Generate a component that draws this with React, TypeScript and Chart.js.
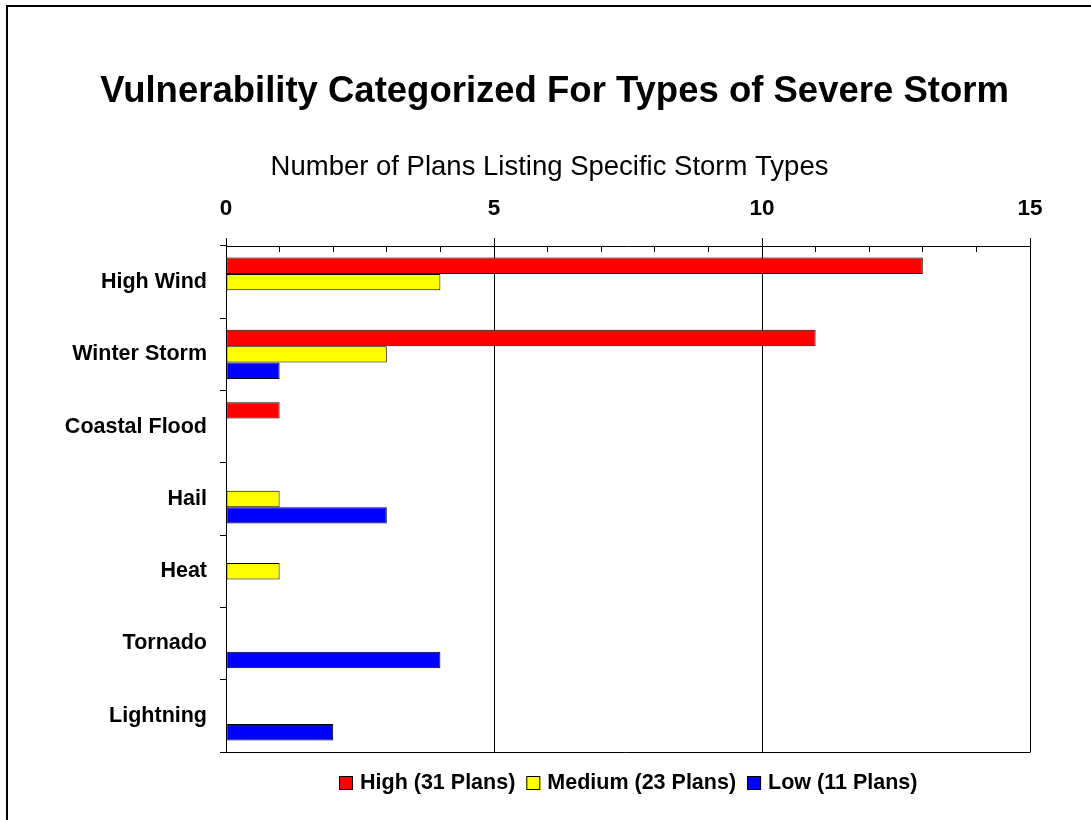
import { useEffect, useRef } from "react";
import { Chart, registerables } from "chart.js";

Chart.register(...registerables);

const FONT = "'Liberation Sans', Arial, Helvetica, sans-serif";

const chartTitle = "Vulnerability Categorized For Types of Severe Storm";
const axisTitle = "Number of Plans Listing Specific Storm Types";

const categories = [
  "High Wind",
  "Winter Storm",
  "Coastal Flood",
  "Hail",
  "Heat",
  "Tornado",
  "Lightning",
];

const highPlans = [13, 11, 1, null, null, null, null];
const mediumPlans = [4, 3, null, 1, 1, null, null];
const lowPlans = [null, 1, null, 3, null, 4, 2];

const seriesLabels = ["High (31 Plans)", "Medium (23 Plans)", "Low (11 Plans)"];
const seriesColors = ["#FF0000", "#FFFF00", "#0000FF"];

const xMin = 0;
const xMax = 15;
const xMajorStep = 5;

const CANVAS_W = 1083;
const CANVAS_H = 813;

function align(px: number, width = 1) {
  const half = width / 2;
  return Math.round(px - half) + half;
}

// Headings, inward minor ticks on the top axis, the plot's bottom edge and the legend row.
const plotDecor = {
  id: "plotDecor",
  afterDraw(chart: any) {
    const { ctx, chartArea } = chart;
    const xs = chart.scales.x;
    ctx.save();

    // headings
    ctx.fillStyle = "#000";
    ctx.textAlign = "center";
    ctx.textBaseline = "alphabetic";
    ctx.font = `bold 36.5px ${FONT}`;
    ctx.fillText(chartTitle, chart.width / 2 + 5, 94.7);
    ctx.font = `27.5px ${FONT}`;
    ctx.fillText(axisTitle, chart.width / 2, 168);

    ctx.strokeStyle = "#000";
    ctx.lineWidth = 1;

    // minor ticks
    ctx.beginPath();
    for (let v = xMin; v <= xMax; v++) {
      if (v % xMajorStep === 0) continue;
      const px = align(xs.getPixelForValue(v));
      ctx.moveTo(px, chartArea.top);
      ctx.lineTo(px, chartArea.top + 6);
    }
    ctx.stroke();

    // bottom edge of the plot
    const by = align(chartArea.bottom);
    ctx.beginPath();
    ctx.moveTo(chartArea.left - 6, by);
    ctx.lineTo(align(chartArea.right), by);
    ctx.stroke();

    // legend
    ctx.font = `bold 21.5px ${FONT}`;
    ctx.textBaseline = "middle";
    ctx.textAlign = "left";
    const box = 14;
    const gapText = 7;
    const gapItem = 11;
    const items = chart.data.datasets.map((ds: any) => ({
      text: ds.label as string,
      color: ds.backgroundColor as string,
      w: ctx.measureText(ds.label).width,
    }));
    const total =
      items.reduce((s: number, it: any) => s + box + gapText + it.w, 0) +
      gapItem * (items.length - 1);
    let x = Math.round((chartArea.left + chartArea.right) / 2 - total / 2);
    const cy = chartArea.bottom + 30.5;
    items.forEach((it: any) => {
      const top = Math.round(cy - box / 2);
      ctx.fillStyle = it.color;
      ctx.fillRect(x, top, box, box);
      ctx.strokeStyle = "#000";
      ctx.strokeRect(x + 0.5, top + 0.5, box - 1, box - 1);
      ctx.fillStyle = "#000";
      ctx.fillText(it.text, x + box + gapText, cy + 1);
      x += box + gapText + it.w + gapItem;
    });
    ctx.restore();
  },
};

export default function App() {
  const canvasRef = useRef<HTMLCanvasElement | null>(null);

  useEffect(() => {
    const canvas = canvasRef.current;
    if (!canvas) return;
    const values = [highPlans, mediumPlans, lowPlans];
    const chart = new Chart(canvas, {
      type: "bar",
      data: {
        labels: categories,
        datasets: values.map((data, i) => ({
          label: seriesLabels[i],
          data,
          backgroundColor: seriesColors[i],
          borderColor: "#000",
          borderWidth: 1,
          borderSkipped: false,
          categoryPercentage: 0.68,
          barPercentage: 1,
        })),
      },
      options: {
        indexAxis: "y",
        responsive: false,
        animation: false,
        devicePixelRatio: 1,
        layout: { padding: { top: 175, left: 0, right: 61, bottom: 68 } },
        plugins: {
          legend: { display: false },
          tooltip: { enabled: false },
          title: { display: false },
          subtitle: { display: false },
        },
        scales: {
          x: {
            type: "linear",
            position: "top",
            min: xMin,
            max: xMax,
            afterFit: (scale: any) => {
              scale.height = 64;
            },
            ticks: {
              stepSize: 1,
              autoSkip: false,
              maxRotation: 0,
              padding: 16,
              color: "#000",
              font: { family: FONT, size: 22.5, weight: "bold" },
              callback: (v: any) => (Number(v) % xMajorStep === 0 ? String(v) : ""),
            },
            grid: {
              display: true,
              drawOnChartArea: true,
              drawTicks: true,
              tickLength: 8,
              lineWidth: 1,
              color: (c: any) =>
                c.tick && c.tick.value % xMajorStep === 0 ? "#000" : "rgba(0,0,0,0)",
              tickColor: (c: any) =>
                c.tick && c.tick.value % xMajorStep === 0 ? "#000" : "rgba(0,0,0,0)",
            },
            border: { display: true, color: "#000", width: 1 },
          },
          y: {
            type: "category",
            afterFit: (scale: any) => {
              scale.width = 218;
            },
            ticks: {
              padding: 13,
              color: "#000",
              font: { family: FONT, size: 21.5, weight: "bold" },
            },
            grid: {
              display: true,
              offset: true,
              drawOnChartArea: false,
              drawTicks: true,
              tickLength: 6,
              color: "#000",
              lineWidth: 1,
            },
            border: { display: true, color: "#000", width: 1 },
          },
        },
      },
      plugins: [plotDecor],
    } as any);
    return () => chart.destroy();
  }, []);

  return (
    <div
      style={{
        position: "fixed",
        left: 6,
        top: 5,
        width: CANVAS_W + 2,
        height: CANVAS_H + 2,
        boxSizing: "border-box",
        borderLeft: "2px solid #000",
        borderTop: "2px solid #000",
        background: "#fff",
      }}
    >
      <canvas
        ref={canvasRef}
        width={CANVAS_W}
        height={CANVAS_H}
        style={{ display: "block", width: CANVAS_W, height: CANVAS_H }}
      />
    </div>
  );
}
